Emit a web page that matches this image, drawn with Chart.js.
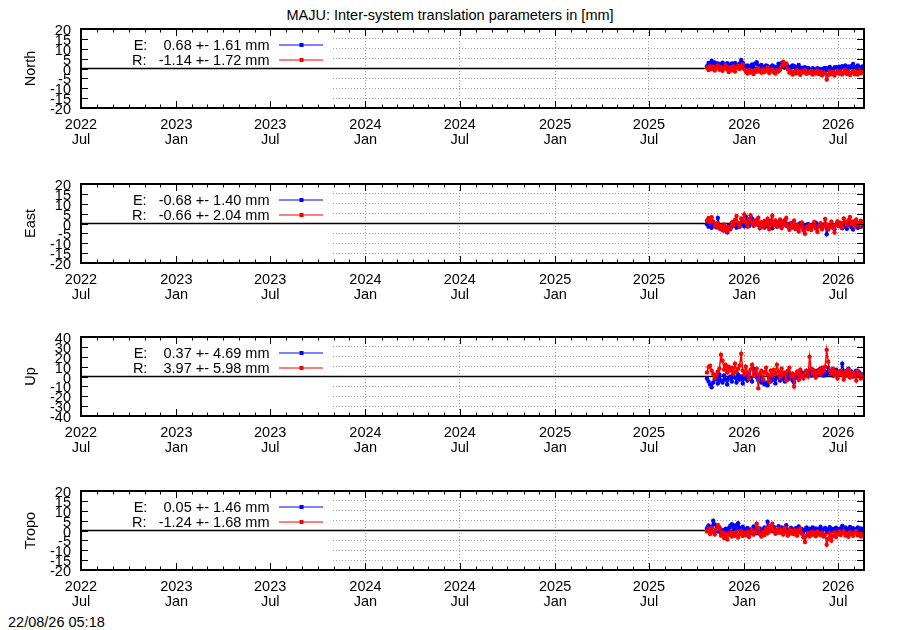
<!DOCTYPE html>
<html>
<head>
<meta charset="utf-8">
<script src="https://cdn.jsdelivr.net/npm/chart.js@4.4.1/dist/chart.umd.min.js"></script>
<style>
body { margin:0; width:900px; height:630px; background:#fff; position:relative; overflow:hidden;
       font-family:"Liberation Sans", Arial, sans-serif; font-size:14.5px; color:#000; }
canvas { position:absolute; left:0; }
.txt { position:absolute; line-height:16px; white-space:pre; }
</style>
</head>
<body>
<div class="txt" style="left:0;width:900px;text-align:center;top:7px">MAJU: Inter-system translation parameters in [mm]</div>
<div class="txt" style="left:8px;top:614px">22/08/26 05:18</div>
<script>
// panels
const panelNames = ['North', 'East', 'Up', 'Tropo'];
const panelLimits = [20, 20, 40, 20];
const panelSteps = [5, 5, 10, 5];

// key statistics (mean +- sigma, mm)
const meanE = [0.68, -0.68, 0.37, 0.05];
const sigE = [1.61, 1.40, 4.69, 1.46];
const meanR = [-1.14, -0.66, 3.97, -1.24];
const sigR = [1.72, 2.04, 5.98, 1.68];

// time axis: 2022-07-01 .. 2026-08-20, samples every 3 days from 2025-10-21
const axisStart = '2022-07-01';
const axisEnd = '2026-08-20';
const firstSample = '2025-10-21';
const stepDays = 3;

const northE = [1.2, 2.8, 1.9, 3.9, 2.3, 3.1,
  1.6, 2.6, 1.0, 2.2, 2.9, 1.3, 2.0, 2.7, 1.1, 2.1,
  2.5, 1.4, 2.8, 1.8, 1.0, 2.5, 4.3, 2.9, 1.5,
  0.8, 1.6, 0.2, 1.2, 2.0, 0.5, 2.5, 3.2, 1.4, 0.4, 1.8,
  0.9, 0.1, 1.6, 1.2, -0.2, 0.7, 1.5, 1.0, 0.2, 0.8,
  2.4, 1.0, 2.7, 1.7, 0.5, 2.1, 1.1, 0.0, 0.9, 1.6,
  1.3, 0.1, 0.7, 1.8, -0.1, 0.4, -0.3, 0.6, -0.5, 0.3,
  -0.3, -1.0, 0.2, -0.5, -1.2, 0.1, -0.8, -0.2, -1.3, 0.0,
  0.3, -0.9, 0.1, 0.8, -0.4, -1.1, 0.5, 0.7, -0.2, 0.9,
  0.2, 1.2, 0.5, 1.5, 0.0, 1.0, 0.4, 1.3, 2.3, 0.8, 0.3, 1.6, 0.6, 0.1, 1.1];
const northR = [0.5, -0.8, 1.2, -0.3, 0.9, -1.0,
  0.4, 1.5, -0.6, 0.8, -1.2, 0.2, 1.8, -0.5, -1.8, 0.6,
  -0.9, 1.0, -1.5, 0.3, 1.4, -0.2, 0.9, 2.0, -0.4,
  -1.6, -2.5, -0.7, -2.0, -1.2, -2.8, -0.9, -1.7, 0.2, -1.4, -2.2,
  -0.5, -1.8, -1.0, 0.4, -2.3, -1.1, -0.3, -1.9, -2.6, -0.8,
  -1.5, -0.6, 1.2, 3.4, 1.8, 2.6, -0.4, -2.1, -1.3, -3.0,
  -1.8, -2.6, -0.9, -2.2, -3.2, -1.4, -2.0, -0.8, -2.7, -1.6,
  -2.3, -1.2, -3.0, -1.9, -2.5, -1.0, -2.8, -1.7, -3.4, -2.1,
  -2.6, -5.6, -3.3, -1.4, -2.9, -1.8, -3.6, -2.2, -1.1, -2.7,
  -1.6, -3.1, -2.0, -0.9, -2.8, -1.5, -3.3, -2.1, -1.2, -2.9, -1.7, -3.0, -0.8, -2.4, -1.9];

const eastE = [-0.4, -1.6, 0.5, -2.2, -1.0, -0.3,
  -1.9, 2.8, -0.8, -2.5, -1.3, -3.6, -2.0, -4.5, -1.1, -2.7,
  -1.5, 0.6, -0.9, -2.1, 0.3, -1.7, -0.5, 1.2, -1.4,
  3.4, 0.9, -1.3, 0.2, 2.5, -1.0, -0.2, 1.5, -0.8, 0.4, -1.6,
  -0.5, -2.0, 0.6, -1.2, -0.3, 1.4, -2.4, -0.7, 0.5, -1.5,
  -0.9, 0.8, -1.8, -0.2, 1.6, -1.1, -0.4, -2.3, -0.8, 0.3,
  -1.4, -2.8, -0.6, -1.9, 0.2, -1.2, -2.5, -0.9, -1.6, -0.4,
  -1.8, -2.6, -0.7, -1.3, 0.4, -2.0, -1.1, -0.5, -1.9, -1.0,
  -0.3, -5.4, -2.2, -1.0, -0.6, -1.7, -2.9, -0.8, 0.5, -1.4,
  -1.1, -2.4, 0.2, -1.6, -2.7, -0.6, 0.8, -1.9, -3.0, -1.2, -0.4, -2.2, -0.9, -1.7, -0.2];
const eastR = [1.5, 2.8, 0.6, 3.2, 1.0, -0.8,
  -1.5, 0.3, -2.6, -1.2, -3.4, -0.5, -2.1, -4.0, -1.8, -2.9,
  0.5, -1.0, 1.8, 3.8, 0.2, -1.4, 2.5, 1.1, 4.6,
  0.8, -1.6, 2.2, 4.2, 0.4, -1.2, 1.6, -0.3, 2.9, -2.4, 0.7,
  -1.8, 1.3, -0.6, 2.4, -2.8, 0.9, 3.9, -0.9, 1.5, -1.7,
  0.6, 2.0, -2.3, 1.1, -0.4, 2.8, -1.5, -3.2, 0.3, -2.0,
  1.4, -2.6, -0.8, -4.1, -1.9, 0.5, -3.5, -5.2, -1.6, -2.8,
  -0.9, -3.3, -1.4, 0.8, -2.5, -4.3, -1.1, 0.2, -2.9, -1.5,
  2.3, -0.6, -3.0, -1.8, 0.9, -2.2, -4.6, -0.7, 1.2, -1.3,
  0.4, -1.9, 2.6, 0.9, -0.8, 1.7, 3.3, -0.2, 1.1, -1.6, 2.0, 0.3, -1.0, 1.4, -0.5];

const upE = [-2, -5, -8, -11, -6, -3,
  -1, -7, 2, -4, -6, 1, -3, -8, -2, 0,
  -5, 3, -1, -6, 2, -3, 0, -7, -2,
  1, -4, 3, -2, -5, 8, 2, -1, -4, 0, -6,
  -3, -8, -6, -9, -2, -5, 1, -3, -7, -1,
  0, -4, 2, -2, -5, 1, -3, 3, -1, -4,
  -6, -1, 2, -3, 1, 4, 0, 3, 6, 2,
  5, 1, 7, 3, 0, 6, 2, 8, 4, 1,
  5, 2, 9, 3, 6, 1, 4, 7, 2, 5,
  3, 13, 6, 1, 4, 8, 2, 5, 0, 3, 6, 1, 4, -1, 2];
const upR = [4, 9.5, 11, 6, 2.5, -1.5,
  1.5, 5, 8, 22, 16, 7, 12, 4, 10, 6,
  9, 3, 13, 5, 8, 11, 23, 6, 2,
  10, 4, -2, 7, 12, 1, 5, 8, -12, 3, 6,
  -3, 4, 9, 2, -5, 6, 1, 7, 3, 12,
  5, -1, 8, 2, 4, -4, 6, 9, 0, 3,
  -10, 2, 5, -3, 7, 1, -2, 4, 6, 0,
  20, 8, 3, 6, -1, 4, 7, 2, 9, 5,
  10, 27, 15, 6, 3, 8, 1, 5, -2, 4,
  6, 2, -3, 5, 1, 7, -1, 4, 0, 3, -4, 6, 2, -2, 1];

const tropoE = [1.2, 2.6, 0.4, 1.8, 5.0, 3.1,
  0.8, -0.5, 1.5, -1.0, 0.2, -1.6, 0.9, -0.4, 1.2, 2.4,
  3.2, 1.0, 2.5, 0.3, 3.7, 1.4, -0.2, 1.9, 0.6,
  -0.8, 1.3, -1.2, 0.5, -0.3, 2.0, 0.7, -1.4, 0.2, 1.1, -0.6,
  0.4, 1.5, -0.9, 4.4, 2.1, 0.6, -0.4, 1.8, 0.2, -1.1,
  2.2, 0.3, 1.6, -0.5, 0.9, 2.7, 0.1, -0.8, 1.4, 0.5,
  -0.3, 1.2, 0.4, 2.0, -0.6, 0.8, -1.2, 0.3, 1.5, -0.2,
  0.9, -0.7, 1.6, 0.2, 1.1, -0.4, 0.6, 1.9, -0.1, 0.7,
  1.3, -0.8, 0.5, 1.7, -0.3, 0.8, 0.2, 1.4, -0.5, 0.6,
  1.0, 2.3, 0.3, 1.5, -0.2, 0.9, 1.8, 0.4, 1.2, -0.4, 0.7, 1.6, 0.1, 1.1, 0.5];
const tropoR = [-0.5, 0.8, -1.8, 1.2, -0.6, -2.0,
  0.3, 2.8, 1.5, -2.6, -0.9, -3.8, -1.6, -4.5, -2.2, -0.8,
  -3.1, -1.4, -2.7, -0.5, -3.6, -1.9, -0.2, -2.8, -1.3,
  -2.4, -0.7, -3.3, -1.5, 0.4, -2.1, -0.9, 3.5, 1.2, -1.8, -3.0,
  -0.6, -2.3, 0.9, -1.4, 2.2, -0.3, 3.4, 0.5, -1.7, -0.4,
  1.1, -1.2, 0.3, -2.0, 1.6, -0.8, -2.5, 0.6, -1.5, -0.2,
  -1.9, 0.2, -2.6, -0.9, 1.0, -1.6, -3.4, -5.8, -2.7, -1.3,
  -3.1, -0.8, -2.2, -1.0, -2.9, -0.5, -1.8, -2.4, -1.1, -3.0,
  -2.0, -7.2, -4.1, -1.5, -5.2, -2.8, -0.9, -3.3, -1.7, -0.6,
  -2.3, -1.2, -0.4, -2.6, -1.5, -3.2, -0.8, -1.9, -2.7, -1.1, -0.3, -2.4, -1.6, -3.0, -1.4];

const seriesE = [northE, eastE, upE, tropoE];
const seriesR = [northR, eastR, upR, tropoR];

const frameTops = [29, 184, 337, 491];
const keyRight = 331;   // opaque key box covers the plot up to here

const DAY = 86400000;
const t0 = Date.parse(axisStart);
const dayOf = s => (Date.parse(s) - t0) / DAY;
const endDay = dayOf(axisEnd);
const sampleStart = dayOf(firstSample);

// month ticks, labelled on Jan / Jul
const monthTicks = [];
for (let y = 2022, m = 6; ; m++) {
  if (m > 11) { m = 0; y++; }
  const d = (Date.UTC(y, m, 1) - t0) / DAY;
  if (d > endDay) break;
  monthTicks.push({ day: d, major: m === 0 || m === 6, label: m === 0 ? [String(y), 'Jan'] : (m === 6 ? [String(y), 'Jul'] : '') });
}
const tickInfo = new Map(monthTicks.map(t => [t.day, t]));

Chart.defaults.font.family = '"Liberation Sans", Arial, sans-serif';
Chart.defaults.font.size = 14.5;
Chart.defaults.color = '#000';

const GRID = '#a0a0a0';

const gnuFrame = {
  id: 'gnuFrame',
  beforeDatasetsDraw(chart) {
    const { ctx, chartArea: a, scales: { y } } = chart;
    ctx.save();
    ctx.fillStyle = '#fff';
    ctx.fillRect(a.left, a.top, keyRight - a.left, a.bottom - a.top);
    const y0 = y.getPixelForValue(0);
    ctx.strokeStyle = '#000';
    ctx.lineWidth = 1.5;
    ctx.beginPath();
    ctx.moveTo(a.left, y0);
    ctx.lineTo(a.right, y0);
    ctx.stroke();
    ctx.restore();
  },
  afterDraw(chart) {
    const { ctx, chartArea: a, scales: { x, y } } = chart;
    ctx.save();
    ctx.strokeStyle = '#000';
    ctx.lineWidth = 1;
    ctx.beginPath();
    x.ticks.forEach(t => {
      const px = Math.round(x.getPixelForValue(t.value)) + 0.5;
      const info = tickInfo.get(t.value);
      const len = info && info.major ? 7 : 3.5;
      ctx.moveTo(px, a.bottom); ctx.lineTo(px, a.bottom - len);
      ctx.moveTo(px, a.top); ctx.lineTo(px, a.top + len);
    });
    y.ticks.forEach(t => {
      const py = Math.round(y.getPixelForValue(t.value)) + 0.5;
      ctx.moveTo(a.left, py); ctx.lineTo(a.left + 7, py);
      ctx.moveTo(a.right, py); ctx.lineTo(a.right - 7, py);
    });
    ctx.stroke();
    ctx.lineWidth = 2;
    ctx.strokeRect(a.left, a.top, a.right - a.left, a.bottom - a.top);
    // key samples
    chart.data.datasets.forEach((ds, k) => {
      const sy = a.top + 16 + 15 * k;
      ctx.strokeStyle = ds.borderColor;
      ctx.lineWidth = 1.2;
      ctx.beginPath();
      ctx.moveTo(279, sy); ctx.lineTo(323, sy);
      ctx.stroke();
      ctx.fillStyle = ds.borderColor;
      ctx.fillRect(299.5, sy - 2, 4, 4);
    });
    ctx.restore();
  }
};

const fmt = v => v.toFixed(2).padStart(6, ' ');

panelNames.forEach((name, p) => {
  const top = frameTops[p];
  const cv = document.createElement('canvas');
  cv.width = 900; cv.height = 139;
  cv.style.top = (top - 10) + 'px';
  document.body.appendChild(cv);

  const keyE = document.createElement('div');
  keyE.className = 'txt';
  keyE.style.cssText = `right:${900 - 269.5}px;top:${top + 8}px;text-align:right`;
  keyE.textContent = `E:  ${fmt(meanE[p])} +- ${sigE[p].toFixed(2)} mm`;
  document.body.appendChild(keyE);
  const keyR = document.createElement('div');
  keyR.className = 'txt';
  keyR.style.cssText = `right:${900 - 269.5}px;top:${top + 23}px;text-align:right`;
  keyR.textContent = `R:  ${fmt(meanR[p])} +- ${sigR[p].toFixed(2)} mm`;
  document.body.appendChild(keyR);

  const pts = arr => arr.map((v, i) => ({ x: sampleStart + stepDays * i, y: v }));

  new Chart(cv.getContext('2d'), {
    type: 'line',
    data: {
      datasets: [{
        label: 'E',
        data: pts(seriesE[p]),
        borderColor: '#0000ff',
        backgroundColor: '#0000ff',
        borderWidth: 1.5,
        pointRadius: 2.2,
        pointBorderWidth: 0,
        tension: 0,
        order: 1,
      }, {
        label: 'R',
        data: pts(seriesR[p]),
        borderColor: '#ff0000',
        backgroundColor: '#ff0000',
        borderWidth: 1.5,
        pointRadius: 2.2,
        pointBorderWidth: 0,
        tension: 0,
        order: 0,
      }],
    },
    options: {
      responsive: false,
      animation: false,
      devicePixelRatio: 1,
      layout: { padding: { top: 10, right: 36, bottom: 0, left: 0 } },
      plugins: { legend: { display: false }, tooltip: { enabled: false } },
      scales: {
        x: {
          type: 'linear',
          min: 0,
          max: endDay,
          afterBuildTicks: s => { s.ticks = monthTicks.map(t => ({ value: t.day })); },
          afterFit: s => { s.height = 50; s.paddingLeft = 0; s.paddingRight = 0; },
          ticks: {
            autoSkip: false,
            maxRotation: 0,
            padding: 9,
            font: { lineHeight: 1.08 },
            callback: v => (tickInfo.get(v) || {}).label || '',
          },
          grid: {
            drawTicks: false,
            lineWidth: 1,
            color: c => (c.tick && tickInfo.get(c.tick.value) && tickInfo.get(c.tick.value).major) ? GRID : 'rgba(0,0,0,0)',
          },
          border: { display: false, dash: [1, 2] },
        },
        y: {
          min: -panelLimits[p],
          max: panelLimits[p],
          afterFit: s => { s.width = 81; s.paddingTop = 0; s.paddingBottom = 0; },
          ticks: { stepSize: panelSteps[p], autoSkip: false, padding: 10, labelOffset: 2 },
          title: { display: true, text: name, padding: { top: 22, bottom: 0 } },
          grid: {
            drawTicks: false,
            lineWidth: 1,
            color: c => (c.tick && c.tick.value === 0) ? 'rgba(0,0,0,0)' : GRID,
          },
          border: { display: false, dash: [1, 2] },
        },
      },
    },
    plugins: [gnuFrame],
  });
});
</script>
</body>
</html>
